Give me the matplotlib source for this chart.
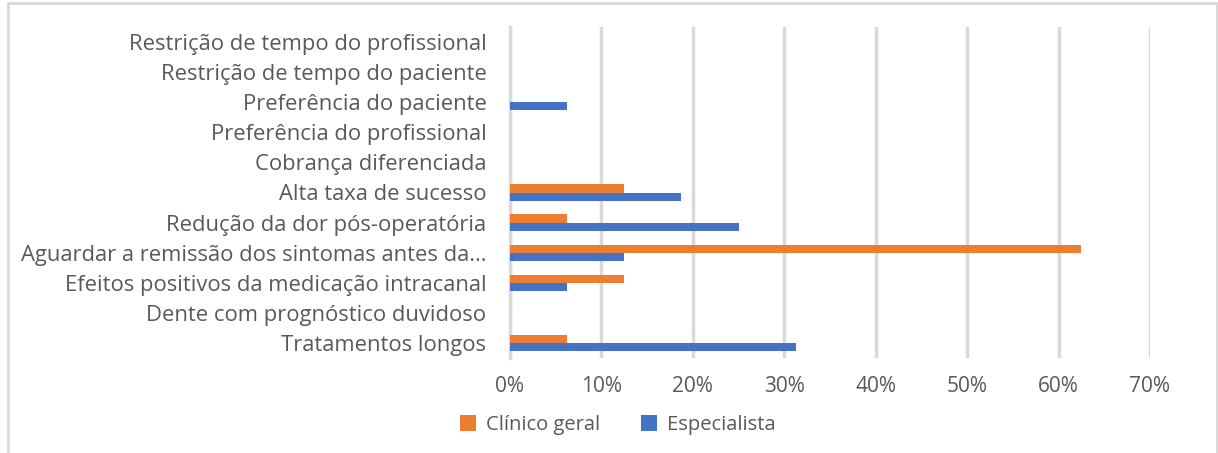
import numpy as np
import matplotlib.pyplot as plt
import matplotlib.patches as mpatches
from matplotlib.ticker import FuncFormatter

# ---------------------------------------
# DATA (bottom to top)
# ---------------------------------------
categories = [
    "Tratamentos longos",
    "Dente com prognóstico duvidoso",
    "Efeitos positivos da medicação intracanal",
    "Aguardar a remissão dos sintomas antes da...",
    "Redução da dor pós-operatória",
    "Alta taxa de sucesso",
    "Cobrança diferenciada",
    "Preferência do profissional",
    "Preferência do paciente",
    "Restrição de tempo do paciente",
    "Restrição de tempo do profissional",
]
clinico = [0.0625, 0, 0.125, 0.625, 0.0625, 0.125, 0, 0, 0, 0, 0]
especialista = [0.3125, 0, 0.0625, 0.125, 0.25, 0.1875, 0, 0, 0.0625, 0, 0]

c_orange = "#ED7D31"
c_blue = "#4472C4"
txt = "#595959"

plt.rcParams['font.family'] = ['Open Sans', 'DejaVu Sans']

fig = plt.figure(figsize=(12.18, 4.53), dpi=100)

# outer chart border
border = mpatches.Rectangle((8 / 1218, -0.01), 1209 / 1218, 1 - 3 / 453 + 0.01,
                            transform=fig.transFigure, fill=False,
                            edgecolor="#D9D9D9", linewidth=2)
fig.patches.append(border)

ax = fig.add_axes([510 / 1218, 95 / 453, 640 / 1218, 331 / 453])

y = np.arange(len(categories))
h = 0.27
ax.barh(y + h / 2, clinico, height=h, color=c_orange, label="Clínico geral", zorder=3)
ax.barh(y - h / 2, especialista, height=h, color=c_blue, label="Especialista", zorder=3)

ax.set_xlim(0, 0.7)
ax.set_ylim(-0.5, len(categories) - 0.5)
ax.set_xticks(np.arange(0, 0.71, 0.1))
ax.xaxis.set_major_formatter(FuncFormatter(lambda v, p: f"{v * 100:.0f}%"))
ax.set_yticks(y)
ax.set_yticklabels(categories)

ax.grid(axis='x', color="#D9D9D9", linewidth=2.5, zorder=0)
ax.axvline(0, color="#D9D9D9", linewidth=2.5, zorder=1, clip_on=False)
for s in ax.spines.values():
    s.set_visible(False)
ax.tick_params(axis='both', length=0, colors=txt)
ax.tick_params(axis='x', pad=13, labelsize=15)
ax.tick_params(axis='y', pad=17, labelsize=15.8)

fig.legend(loc='center', bbox_to_anchor=(618 / 1218, 1 - 425 / 453), ncol=2,
           frameon=False, fontsize=14.5, labelcolor=txt, handlelength=0.8,
           handleheight=0.8, columnspacing=2.0, handletextpad=0.5)

fig.savefig("out.png", dpi=100)
